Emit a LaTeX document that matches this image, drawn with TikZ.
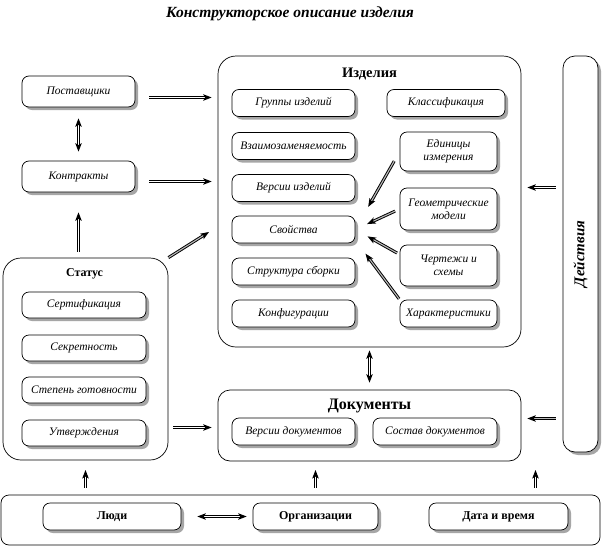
\documentclass[tikz,border=0pt]{standalone}
\usepackage{fontspec}
\setmainfont{Liberation Serif}
\usetikzlibrary{arrows.meta,shadows}
\begin{document}
\begin{tikzpicture}[x=1pt,y=-1pt,
  sbox/.style={draw, line width=0.7pt, rounded corners=7pt, fill=white,
    general shadow={fill=gray!70, shadow xshift=3pt, shadow yshift=-3pt},
    font=\fontsize{11.5}{13}\selectfont\itshape, align=center, inner sep=1pt},
  bbox/.style={sbox, font=\fontsize{12}{14}\selectfont\bfseries},
  big/.style={draw, line width=0.7pt, rounded corners=16pt, fill=white, inner sep=0pt},
  ttl/.style={font=\fontsize{15}{17}\selectfont\bfseries, inner sep=0pt},
  tip/.tip={Stealth[length=8.5pt,width=6.5pt,inset=2pt]},
  dbl/.style={double distance=1.1pt, line width=0.95pt, double=white, -tip},
  dblg/.style={dbl, double=gray!55},
  dbl2/.style={dbl, tip-tip}
]
\useasboundingbox (0,0) rectangle (603,560);

\node[font=\fontsize{15.5}{17}\selectfont\bfseries\itshape] (title) at (290,14) {Конструкторское описание изделия};

% big containers
\node[big, minimum width=165pt, minimum height=202pt, rounded corners=18pt] (status) at (85.5,359) {};
\node[big, minimum width=303pt, minimum height=291pt, rounded corners=18pt] (izd) at (369.5,201.5) {};
\node[big, minimum width=303pt, minimum height=71pt, rounded corners=12pt] (doc) at (369.5,425.5) {};
\node[big, minimum width=599pt, minimum height=50pt, rounded corners=8pt] (band) at (300.5,520) {};
\node[big, minimum width=35pt, minimum height=396pt, rounded corners=12pt,
  general shadow={fill=gray!70, shadow xshift=3pt, shadow yshift=-3pt}] (dej) at (580.5,254) {};
\node[rotate=90, font=\fontsize{15}{17}\selectfont\bfseries\itshape] (dejt) at (dej.center) {Действия};

\node[ttl, font=\fontsize{14.5}{17}\selectfont\bfseries] (izdt) at (369.5,74) {Изделия};
\node[ttl, font=\fontsize{16}{18}\selectfont\bfseries] (doct) at (369.5,406) {Документы};
\node[ttl, font=\fontsize{12}{14}\selectfont\bfseries] (statt) at (84.5,274) {Статус};

% left boxes
\node[sbox, minimum width=113pt, minimum height=31pt] (post) at (78.5,91.5) {Поставщики};
\node[sbox, minimum width=113pt, minimum height=31pt] (kontr) at (78.5,176.5) {Контракты};

% status inner
\node[sbox, minimum width=124pt, minimum height=26pt] (sert) at (84,305) {Сертификация};
\node[sbox, minimum width=124pt, minimum height=26pt] (sekr) at (84,348) {Секретность};
\node[sbox, minimum width=124pt, minimum height=26pt] (stg) at (84,390) {Степень готовности};
\node[sbox, minimum width=124pt, minimum height=26pt] (utv) at (84,433) {Утверждения};

% izdelia inner left
\node[sbox, minimum width=123pt, minimum height=27pt] (gr) at (293.5,103) {Группы изделий};
\node[sbox, minimum width=123pt, minimum height=27pt] (vz) at (293.5,146) {Взаимозаменяемость};
\node[sbox, minimum width=123pt, minimum height=27pt] (vi) at (293.5,188) {Версии изделий};
\node[sbox, minimum width=123pt, minimum height=27pt] (svo) at (293.5,229.5) {Свойства};
\node[sbox, minimum width=123pt, minimum height=27pt] (str) at (293.5,271.5) {Структура сборки};
\node[sbox, minimum width=123pt, minimum height=27pt] (konf) at (293.5,313.5) {Конфигурации};
% izdelia inner right
\node[sbox, minimum width=118pt, minimum height=27pt] (kl) at (446,103) {Классификация};
\node[sbox, minimum width=97pt, minimum height=39pt] (ed) at (448.5,151.5) {Единицы\\измерения};
\node[sbox, minimum width=97pt, minimum height=42pt] (geo) at (448.5,209) {Геометрические\\модели};
\node[sbox, minimum width=97pt, minimum height=41pt] (ch) at (448.5,265.5) {Чертежи и\\схемы};
\node[sbox, minimum width=97pt, minimum height=27pt] (har) at (448.5,313.5) {Характеристики};

% documents inner
\node[sbox, minimum width=123pt, minimum height=27pt] (vd) at (293.5,431.5) {Версии документов};
\node[sbox, minimum width=124pt, minimum height=27pt] (sd) at (435,431.5) {Состав документов};

% bottom band inner
\node[bbox, minimum width=138pt, minimum height=27pt] (ludi) at (112,516.5) {Люди};
\node[bbox, minimum width=125pt, minimum height=27pt] (org) at (315.5,516.5) {Организации};
\node[bbox, minimum width=139pt, minimum height=27pt] (dt) at (498.5,516.5) {Дата и время};

% connectors
\draw[dbl2, shorten <=11pt, shorten >=9pt] (post.south) -- (kontr.north);
\draw[dbl, shorten <=6pt, shorten >=20pt] (kontr.south |- status.north) -- (kontr.south);
\draw[dbl, shorten <=14pt, shorten >=6pt] ([yshift=-6pt]post.east) -- ([yshift=-6pt]post.east -| izd.west);
\draw[dbl, shorten <=14pt, shorten >=6pt] ([yshift=-5pt]kontr.east) -- ([yshift=-5pt]kontr.east -| izd.west);
\coordinate (d1) at (209,232);
\draw[dblg] (status.north east) -- (d1);
\coordinate (d2) at (0,427.5);
\draw[dbl, shorten <=5pt, shorten >=6pt] (status.east |- d2) -- (doc.west |- d2);
\draw[dbl2, shorten <=3pt, shorten >=7pt] (izd.south) -- (doc.north);
\coordinate (d3) at (0,187.5);
\draw[dbl, shorten <=7pt, shorten >=6pt] (dej.west |- d3) -- (izd.east |- d3);
\coordinate (d4) at (0,418.5);
\draw[dblg, shorten <=7pt, shorten >=6pt] (dej.west |- d4) -- (doc.east |- d4);
\coordinate (u1) at (85.5,470);
\coordinate (u2) at (315.5,470);
\coordinate (u3) at (535.5,470);
\draw[dbl, shorten <=7pt] (u1 |- band.north) -- (u1);
\draw[dbl, shorten <=7pt] (u2 |- band.north) -- (u2);
\draw[dbl, shorten <=7pt] (u3 |- band.north) -- (u3);
\draw[dbl2, shorten <=16pt, shorten >=6pt] (ludi.east) -- (org.west);
% to Svojstva
\draw[dblg, shorten <=11pt, shorten >=26pt] (ed.west) -- (svo.east);
\draw[dblg, shorten <=5pt, shorten >=13pt] (geo.west) -- (svo.east);
\draw[dblg, shorten <=3pt, shorten >=14pt] ([yshift=11pt]ch.west) -- (svo.east);
\draw[dblg, shorten <=1pt, shorten >=17pt] (har.north west) -- ([yshift=-10.5pt]svo.east);
\end{tikzpicture}
\end{document}
